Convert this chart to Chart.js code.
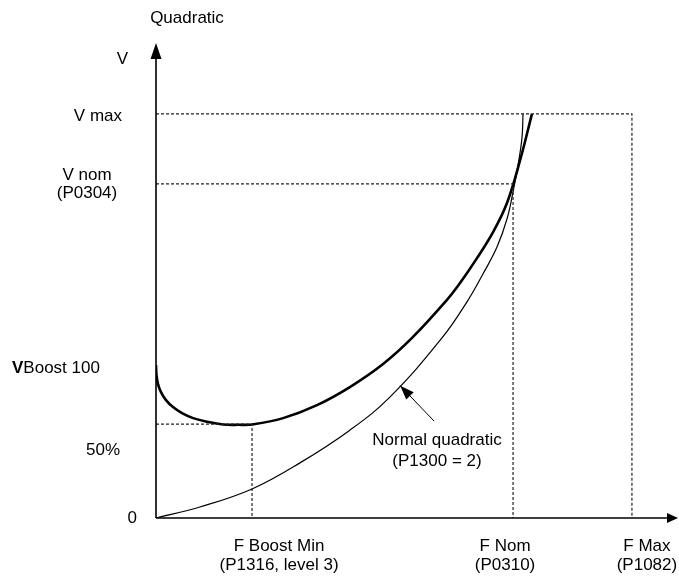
<!DOCTYPE html>
<html>
<head>
<meta charset="utf-8">
<script src="https://cdn.jsdelivr.net/npm/chart.js@4"></script>
<style>
  body { margin: 0; background: #fff; }
  #wrap { width: 679px; height: 577px; }
</style>
</head>
<body>
<div id="wrap"><canvas id="VfChart"></canvas></div>
<script>
// frequency in % of F Nom, voltage in % of V Nom
var boostF = [0, 0.14, 0.56, 1.4, 2.8, 4.76, 7.28, 10.4, 14.0, 18.8, 23.0, 26.9, 35.6, 45.1, 54.3, 63.6, 71.7, 81.5, 85.2, 89.9, 94.4, 98.3, 102.0, 105.3];
var boostV = [45.8, 42.8, 40.1, 37.7, 35.3, 33.2, 31.4, 29.9, 28.9, 28.0, 27.9, 28.0, 29.9, 33.8, 39.2, 46.1, 53.9, 65.3, 70.4, 77.8, 85.6, 94.3, 107.2, 121.0];

var quadF = [0, 12.3, 26.9, 40.3, 54.3, 65.5, 80.1, 87.1, 91.6, 95.5, 98.3, 100.0, 101.4, 102.5, 102.8];
var quadV = [0, 3.3, 8.7, 16.5, 26.3, 36.2, 53.9, 64.7, 73.1, 81.1, 89.5, 97.6, 105.7, 113.8, 121.0];

var fBoostMin = 26.9, fNom = 100, fMax = 133.3;
var vMax = 121, vNom = 100, vBoostMin = 28.1, vBoost = 45.8, vHalf = 20.4;

var xTickValues = [fBoostMin, fNom, fMax];
var xTickLabels = [['F Boost Min', '(P1316, level 3)'], ['F Nom', '(P0310)'], ['F Max', '(P1082)']];

function pts(xs, ys) {
    return xs.map(function (x, i) { return { x: x, y: ys[i] }; });
}

var dashed = {
    borderColor: '#222',
    borderWidth: 1.2,
    borderDash: [3, 2],
    pointRadius: 0,
    tension: 0,
    fill: false
};

var FONT = '17px "Liberation Sans", Arial, sans-serif';

var diagramPlugin = {
    id: 'diagram',
    afterDatasetsDraw: function (chart) {
        var ctx = chart.ctx;
        var xs = chart.scales.x, ys = chart.scales.y;
        var x0 = xs.getPixelForValue(0), y0 = ys.getPixelForValue(0);
        var xEnd = xs.getPixelForValue(xs.max), yTop = ys.getPixelForValue(ys.max);
        ctx.save();

        // axes with arrow heads
        ctx.strokeStyle = '#000';
        ctx.fillStyle = '#000';
        ctx.lineWidth = 1.6;
        ctx.beginPath();
        ctx.moveTo(x0, y0);
        ctx.lineTo(x0, yTop + 12);
        ctx.moveTo(x0, y0);
        ctx.lineTo(xEnd - 8, y0);
        ctx.stroke();
        ctx.beginPath();
        ctx.moveTo(x0, yTop);
        ctx.lineTo(x0 - 5.5, yTop + 16);
        ctx.lineTo(x0 + 5.5, yTop + 16);
        ctx.closePath();
        ctx.fill();
        ctx.beginPath();
        ctx.moveTo(xEnd, y0);
        ctx.lineTo(xEnd - 11, y0 - 5);
        ctx.lineTo(xEnd - 11, y0 + 5);
        ctx.closePath();
        ctx.fill();

        // pointer to the normal quadratic curve
        var tipX = xs.getPixelForValue(68.4), tipY = ys.getPixelForValue(39.6);
        var tailX = xs.getPixelForValue(77.9), tailY = ys.getPixelForValue(29.0);
        var ang = Math.atan2(tipY - tailY, tipX - tailX);
        ctx.lineWidth = 1;
        ctx.beginPath();
        ctx.moveTo(tailX, tailY);
        ctx.lineTo(tipX, tipY);
        ctx.stroke();
        ctx.beginPath();
        ctx.moveTo(tipX, tipY);
        ctx.lineTo(tipX - 15 * Math.cos(ang - 0.35), tipY - 15 * Math.sin(ang - 0.35));
        ctx.lineTo(tipX - 15 * Math.cos(ang + 0.35), tipY - 15 * Math.sin(ang + 0.35));
        ctx.closePath();
        ctx.fill();

        // texts
        ctx.font = FONT;
        ctx.textBaseline = 'middle';
        ctx.fillStyle = '#000';
        ctx.textAlign = 'center';
        ctx.fillText('Quadratic', 187, 18);
        ctx.fillText('Normal quadratic', xs.getPixelForValue(78.7), ys.getPixelForValue(23.4));
        ctx.fillText('(P1300 = 2)', xs.getPixelForValue(78.7), ys.getPixelForValue(17.1));

        var xShift = [27, -8, 15];
        xTickValues.forEach(function (v, i) {
            var px = xs.getPixelForValue(v) + xShift[i];
            xTickLabels[i].forEach(function (line, j) {
                ctx.fillText(line, px, y0 + 28 + j * 19);
            });
        });

        ctx.textAlign = 'right';
        ctx.fillText('V', 128, yTop + 16);
        ctx.fillText('V max', 122, ys.getPixelForValue(vMax) + 2);
        ctx.fillText('50%', 120, ys.getPixelForValue(vHalf));
        ctx.fillText('0', 137, y0);
        ctx.textAlign = 'center';
        ctx.fillText('V nom', 87, ys.getPixelForValue(vNom) - 9);
        ctx.fillText('(P0304)', 87, ys.getPixelForValue(vNom) + 9);

        ctx.textAlign = 'left';
        var yb = ys.getPixelForValue(vBoost) + 3;
        ctx.font = 'bold ' + FONT;
        ctx.fillText('V', 12, yb);
        var w = ctx.measureText('V').width;
        ctx.font = FONT;
        ctx.fillText('Boost 100', 12 + w, yb);
        ctx.restore();
    }
};

new Chart('VfChart', {
    type: 'line',
    data: {
        datasets: [
            Object.assign({ data: pts([0, fMax, fMax], [vMax, vMax, 0]) }, dashed),
            Object.assign({ data: pts([0, fNom, fNom], [vNom, vNom, 0]) }, dashed),
            Object.assign({ data: pts([0, fBoostMin, fBoostMin], [vBoostMin, vBoostMin, 0]) }, dashed),
            {
                label: 'Boost',
                data: pts(boostF, boostV),
                borderColor: '#000',
                borderWidth: 2.6,
                pointRadius: 0,
                tension: 0.4,
                fill: false
            },
            {
                label: 'Normal quadratic',
                data: pts(quadF, quadV),
                borderColor: '#000',
                borderWidth: 1.2,
                pointRadius: 0,
                tension: 0.4,
                fill: false
            }
        ]
    },
    options: {
        responsive: true,
        maintainAspectRatio: false,
        animation: false,
        layout: { padding: { left: 156, right: 1, top: 43, bottom: 59 } },
        scales: {
            x: { type: 'linear', min: 0, max: 146.2, display: false },
            y: { type: 'linear', min: 0, max: 142.2, display: false }
        },
        plugins: {
            legend: { display: false },
            tooltip: { enabled: false }
        }
    },
    plugins: [diagramPlugin]
});
</script>
</body>
</html>
